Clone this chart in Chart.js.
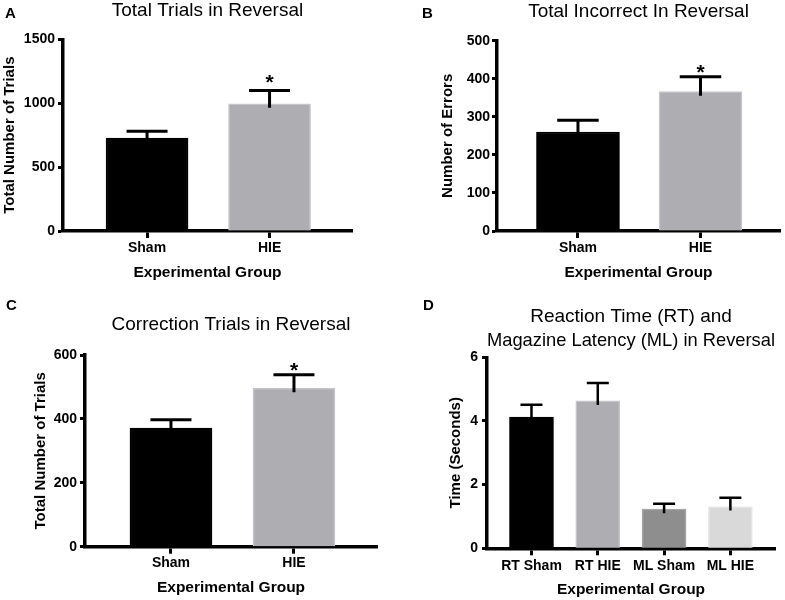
<!DOCTYPE html>
<html>
<head>
<meta charset="utf-8">
<title>Reversal</title>
<script src="https://cdn.jsdelivr.net/npm/chart.js@4.4.1/dist/chart.umd.min.js"></script>
<style>
  body { margin: 0; background: #fff; font-family: "Liberation Sans", Arial, sans-serif; }
  #page { position: relative; width: 785px; height: 600px; overflow: hidden; }
  .panel { position: absolute; }
  .letter { position: absolute; font: bold 15px "Liberation Sans", Arial, sans-serif; color: #000; line-height: 15px; }
</style>
</head>
<body>
<div id="page">
  <div class="panel" style="left:0;top:0;width:390px;height:290px"><canvas id="chartA"></canvas></div>
  <div class="panel" style="left:390px;top:0;width:395px;height:290px"><canvas id="chartB"></canvas></div>
  <div class="panel" style="left:0;top:300px;width:390px;height:300px"><canvas id="chartC"></canvas></div>
  <div class="panel" style="left:390px;top:300px;width:395px;height:300px"><canvas id="chartD"></canvas></div>
  <div class="letter" style="left:5px;top:5px">A</div>
  <div class="letter" style="left:422px;top:5px">B</div>
  <div class="letter" style="left:6px;top:297px">C</div>
  <div class="letter" style="left:423px;top:297px">D</div>
</div>
<script>
// groups
var groups = ["Sham", "HIE"];
var timeGroups = ["RT Sham", "RT HIE", "ML Sham", "ML HIE"];

// A - total trials (mean, SEM)
var trialsMean = [727, 995];
var trialsSem = [54, 104];
// B - total incorrect
var errorsMean = [260, 366];
var errorsSem = [31, 39];
// C - correction trials
var correctionMean = [371, 496];
var correctionSem = [26, 42];
// D - reaction time / magazine latency
var timeMean = [4.12, 4.63, 1.23, 1.31];
var timeSem = [0.39, 0.56, 0.17, 0.28];

// significance markers
var sigTwo = [false, true];
var sigFour = [false, false, false, false];

// y axis ranges [max, step]
var yRangeA = [1500, 500];
var yRangeB = [500, 100];
var yRangeC = [600, 200];
var yRangeD = [6, 2];

var colorsTwo = ["#000000", "#aeaeb2"];
var bordersTwo = ["#000000", "#c6c6ca"];
var colorsFour = ["#000000", "#aeaeb2", "#8e8e8e", "#d9d9d9"];
var bordersFour = ["#000000", "#c6c6ca", "#a4a4a4", "#e8e8e8"];

var FONT = "'Liberation Sans', Arial, sans-serif";

var errorBars = {
  id: "errorBars",
  afterDatasetsDraw: function(chart) {
    var ds = chart.data.datasets[0];
    var meta = chart.getDatasetMeta(0);
    var yScale = chart.scales.y;
    var ctx = chart.ctx;
    ctx.save();
    ctx.strokeStyle = "#000";
    ctx.fillStyle = "#000";
    ctx.lineWidth = ds.errWidth;
    meta.data.forEach(function(bar, i) {
      var top = yScale.getPixelForValue(ds.mean[i] + ds.sem[i]);
      var half = bar.width / 4;
      ctx.beginPath();
      ctx.moveTo(bar.x, bar.y + 4);
      ctx.lineTo(bar.x, top);
      ctx.moveTo(bar.x - half, top);
      ctx.lineTo(bar.x + half, top);
      ctx.stroke();
      if (ds.sig[i]) {
        ctx.font = "bold 21px " + FONT;
        ctx.textAlign = "center";
        ctx.textBaseline = "alphabetic";
        ctx.fillText("*", bar.x, top - ds.starGap + 0.58 * 21);
      }
    });
    ctx.restore();
  }
};

function makePanel(id, p) {
  var ctx = document.getElementById(id);
  return new Chart(ctx, {
    type: "bar",
    data: {
      datasets: [{
        data: p.mean.map(function(v, i) { return {x: i + 1, y: v}; }),
        mean: p.mean,
        sem: p.sem,
        sig: p.sig,
        starGap: p.starGap,
        errWidth: p.errWidth,
        backgroundColor: p.colors,
        borderColor: p.borders,
        borderWidth: 1.5,
        barThickness: p.barWidth
      }]
    },
    options: {
      responsive: true,
      maintainAspectRatio: false,
      animation: false,
      layout: { padding: { left: 0, right: p.padRight, top: 0, bottom: 0 } },
      plugins: {
        legend: { display: false },
        tooltip: { enabled: false },
        title: {
          display: true,
          text: p.title,
          fullSize: false,
          color: "#000",
          font: { family: FONT, size: 19, weight: "normal", lineHeight: p.titleLine },
          padding: { top: p.titleTop, bottom: p.titleBottom }
        }
      },
      scales: {
        x: {
          type: "linear",
          min: p.xMin,
          max: p.xMax,
          offset: false,
          z: 1,
          afterBuildTicks: function(scale) {
            scale.ticks = p.labels.map(function(l, i) { return {value: i + 1}; });
          },
          afterFit: function(scale) { scale.height = p.xHeight; },
          ticks: {
            color: "#000",
            padding: p.xTickPad,
            maxRotation: 0,
            autoSkip: false,
            font: { family: FONT, size: 14, weight: "bold" },
            callback: function(v, i) { return p.labels[i]; }
          },
          grid: { offset: false, drawOnChartArea: false, color: "#000", tickLength: 7, tickWidth: 3 },
          border: { display: true, color: "#000", width: 3.5 },
          title: {
            display: true,
            text: "Experimental Group",
            color: "#000",
            font: { family: FONT, size: 15.5, weight: "bold" },
            padding: { top: 0, bottom: p.xTitlePad }
          }
        },
        y: {
          min: 0,
          max: p.yRange[0],
          z: 1,
          afterFit: function(scale) { scale.width = p.yWidth; },
          ticks: {
            stepSize: p.yRange[1],
            color: "#000",
            padding: p.yTickPad,
            font: { family: FONT, size: 14, weight: "bold" },
            callback: function(v) { return String(v); }
          },
          grid: { drawOnChartArea: false, color: "#000", tickLength: 5, tickWidth: 3 },
          border: { display: true, color: "#000", width: 3.5 },
          title: {
            display: true,
            text: p.yTitle,
            color: "#000",
            font: { family: FONT, size: 15, weight: "bold" },
            padding: { top: p.yTitlePad, bottom: 0 }
          }
        }
      }
    },
    plugins: [errorBars]
  });
}

makePanel("chartA", {
  title: "Total Trials in Reversal", titleLine: 1.1, titleTop: 0, titleBottom: 18.4,
  labels: groups, mean: trialsMean, sem: trialsSem, sig: sigTwo, starGap: 14,
  colors: colorsTwo, borders: bordersTwo, barWidth: 82, errWidth: 3,
  yRange: yRangeA, yTitle: "Total Number of Trials", yWidth: 63, yTickPad: 3, yTitlePad: 0.5,
  xMin: 0.314, xMax: 2.673, xHeight: 59, xTickPad: 2, xTitlePad: 8, padRight: 38
});

makePanel("chartB", {
  title: "Total Incorrect In Reversal", titleLine: 1.1, titleTop: 1.1, titleBottom: 18.7,
  labels: groups, mean: errorsMean, sem: errorsSem, sig: sigTwo, starGap: 10.5,
  colors: colorsTwo, borders: bordersTwo, barWidth: 83, errWidth: 3,
  yRange: yRangeB, yTitle: "Number of Errors", yWidth: 107, yTickPad: 2, yTitlePad: 48.5,
  xMin: 0.339, xMax: 2.649, xHeight: 59, xTickPad: 2, xTitlePad: 8, padRight: 5
});

makePanel("chartC", {
  title: "Correction Trials in Reversal", titleLine: 1.1, titleTop: 14.6, titleBottom: 19.5,
  labels: groups, mean: correctionMean, sem: correctionSem, sig: sigTwo, starGap: 9.5,
  colors: colorsTwo, borders: bordersTwo, barWidth: 82, errWidth: 3,
  yRange: yRangeC, yTitle: "Total Number of Trials", yWidth: 85, yTickPad: 3, yTitlePad: 32,
  xMin: 0.301, xMax: 2.675, xHeight: 53.3, xTickPad: 1, xTitlePad: 3, padRight: 13
});

makePanel("chartD", {
  title: ["Reaction Time (RT) and", "Magazine Latency (ML) in Reversal"], titleLine: 1.25, titleTop: 4.8, titleBottom: 5,
  labels: timeGroups, mean: timeMean, sem: timeSem, sig: sigFour, starGap: 10,
  colors: colorsFour, borders: bordersFour, barWidth: 44, errWidth: 2.5,
  yRange: yRangeD, yTitle: "Time (Seconds)", yWidth: 97, yTickPad: 4, yTitlePad: 57,
  xMin: 0.329, xMax: 4.673, xHeight: 51.7, xTickPad: 2, xTitlePad: 1, padRight: 10
});
</script>
</body>
</html>
